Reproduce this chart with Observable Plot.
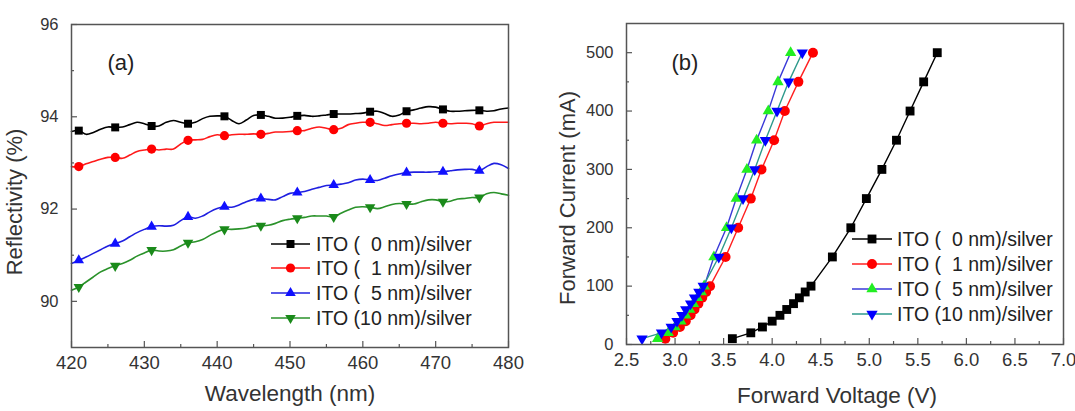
<!DOCTYPE html>
<html><head><meta charset="utf-8">
<script src="https://cdn.jsdelivr.net/npm/d3@7"></script>
<script src="https://cdn.jsdelivr.net/npm/@observablehq/plot@0.6"></script>
<style>
html,body{margin:0;padding:0;background:#fff;}
#wrap{display:flex;width:1075px;height:411px;overflow:hidden;}
svg text{white-space:pre;}
</style></head><body><div id="wrap"></div>
<script>
// ---------- Panel (a): reflectivity ----------
const wavelengths = [420,421,422,423,424,425,426,427,428,429,430,431,432,433,434,435,436,437,438,439,440,441,442,443,444,445,446,447,448,449,450,451,452,453,454,455,456,457,458,459,460,461,462,463,464,465,466,467,468,469,470,471,472,473,474,475,476,477,478,479,480];
const markerWavelengths = [421,426,431,436,441,446,451,456,461,466,471,476];
const refl0 = [93.68,93.70,93.62,93.66,93.73,93.78,93.77,93.78,93.83,93.88,93.85,93.80,93.80,93.88,93.92,93.88,93.85,93.88,93.96,94.01,94.02,94.01,93.92,93.85,93.93,94.03,94.04,94.01,93.97,93.97,93.99,94.02,94.03,94.01,94.02,94.04,94.06,94.06,94.06,94.07,94.08,94.11,94.12,94.07,94.01,94.04,94.12,94.15,94.19,94.22,94.21,94.16,94.12,94.12,94.13,94.14,94.14,94.12,94.13,94.17,94.19];
const refl1 = [92.92,92.92,92.98,93.03,93.08,93.12,93.12,93.10,93.17,93.25,93.28,93.30,93.28,93.30,93.30,93.41,93.49,93.50,93.51,93.57,93.61,93.59,93.61,93.62,93.62,93.63,93.62,93.64,93.67,93.67,93.68,93.70,93.70,93.75,93.78,93.75,93.72,93.75,93.83,93.86,93.88,93.88,93.85,93.81,93.83,93.85,93.86,93.86,93.85,93.86,93.88,93.86,93.85,93.86,93.86,93.85,93.80,93.85,93.88,93.88,93.88];
const refl5 = [90.82,90.89,90.96,91.04,91.12,91.20,91.25,91.31,91.40,91.49,91.56,91.62,91.64,91.63,91.65,91.75,91.83,91.80,91.85,91.94,92.01,92.05,92.04,92.09,92.16,92.21,92.23,92.21,92.20,92.27,92.34,92.36,92.38,92.43,92.47,92.51,92.52,92.54,92.57,92.63,92.65,92.63,92.62,92.67,92.72,92.76,92.79,92.80,92.80,92.80,92.81,92.81,92.83,92.85,92.86,92.86,92.83,92.92,92.99,92.96,92.88];
const refl10 = [90.24,90.31,90.42,90.53,90.64,90.71,90.77,90.82,90.89,90.98,91.05,91.11,91.09,91.09,91.12,91.20,91.27,91.29,91.34,91.43,91.51,91.56,91.56,91.57,91.59,91.63,91.64,91.65,91.69,91.75,91.78,91.80,91.82,91.85,91.85,91.85,91.83,91.91,91.98,92.04,92.05,92.04,92.01,92.05,92.10,92.12,92.11,92.11,92.16,92.20,92.20,92.16,92.17,92.22,92.23,92.25,92.25,92.33,92.36,92.33,92.30];
const xTicksA = [420,430,440,450,460,470,480];
const xMinorA = [425,435,445,455,465,475];
const yTicksA = [90,92,94,96];
const yMinorA = [91,93,95];

// ---------- Panel (b): I-V ----------
const currents = [10,20,30,40,50,60,70,80,90,100,150,200,250,300,350,400,450,500];
const volt0  = [3.59,3.78,3.90,4.00,4.08,4.15,4.22,4.28,4.34,4.40,4.62,4.81,4.97,5.13,5.28,5.42,5.56,5.70];
const volt1  = [2.90,2.98,3.05,3.11,3.16,3.20,3.24,3.28,3.32,3.36,3.52,3.65,3.78,3.89,4.02,4.13,4.27,4.42];
const volt5  = [2.82,2.93,3.00,3.06,3.11,3.15,3.19,3.23,3.27,3.30,3.40,3.53,3.63,3.74,3.84,3.96,4.06,4.19];
const volt10 = [2.66,2.86,2.96,3.02,3.07,3.11,3.16,3.20,3.245,3.29,3.45,3.58,3.70,3.82,3.93,4.05,4.17,4.31];
const xTicksB = [2.5,3.0,3.5,4.0,4.5,5.0,5.5,6.0,6.5,7.0];
const xMinorB = [2.75,3.25,3.75,4.25,4.75,5.25,5.75,6.25,6.75];
const yTicksB = [0,100,200,300,400,500];
const yMinorB = [50,150,250,350,450];

const seriesNames = ["ITO (  0 nm)/silver","ITO (  1 nm)/silver","ITO (  5 nm)/silver","ITO (10 nm)/silver"];

const triDown = {draw(ctx, size){const y=Math.sqrt(size/(Math.sqrt(3)*3));ctx.moveTo(0,y*2);ctx.lineTo(-Math.sqrt(3)*y,-y);ctx.lineTo(Math.sqrt(3)*y,-y);ctx.closePath();}};
const symMap = {square:d3.symbolSquare, circle:d3.symbolCircle, triangle:d3.symbolTriangle, tridown:triDown};
const plotSym = {square:"square", circle:"circle", triangle:"triangle", tridown:triDown};

const FONT = "'Liberation Sans', Arial, sans-serif";

const seriesA = [
  {values:refl0, color:"#000000", line:"#000000", sym:"square", r:4.5},
  {values:refl1, color:"#ff0000", line:"#ff1a1a", sym:"circle", r:4.6},
  {values:refl5, color:"#1010ff", line:"#2020e0", sym:"triangle", r:3.9},
  {values:refl10, color:"#1a8a1a", line:"#2a922a", sym:"tridown", r:3.9}
];
const seriesB = [
  {values:volt0, color:"#000000", line:"#000000", sym:"square", r:5.0},
  {values:volt1, color:"#ff0000", line:"#ff2020", sym:"circle", r:5.0},
  {values:volt5, color:"#22ee22", line:"#3a3ad8", sym:"triangle", r:4.2},
  {values:volt10, color:"#0000ff", line:"#2e9a8c", sym:"tridown", r:4.2}
];

function frameAxes(xT, xM, yT, yM, xFmt, yFmt, fw, fh){
  return [
    Plot.axisX({ticks:xT, tickSize:0, tickPadding:8, fontSize:18.5, fill:"#333", label:null, tickFormat:xFmt}),
    Plot.tickX(xT, {x:d=>d, insetTop:fh-6, stroke:"#555", strokeWidth:1.2}),
    Plot.tickX(xM, {x:d=>d, insetTop:fh-3, stroke:"#555", strokeWidth:1.2}),
    Plot.axisY({ticks:yT, tickSize:0, tickPadding:13, fontSize:16.5, fill:"#333", label:null, tickFormat:yFmt}),
    Plot.tickY(yT, {y:d=>d, insetRight:fw-6, stroke:"#555", strokeWidth:1.2}),
    Plot.tickY(yM, {y:d=>d, insetRight:fw-3, stroke:"#555", strokeWidth:1.2}),
    Plot.frame({stroke:"#555", strokeWidth:1.5})
  ];
}

// Panel A marks
const marksA = [];
seriesA.forEach(s => {
  marksA.push(Plot.line(wavelengths, {x:d=>d, y:(d,i)=>s.values[i], stroke:s.line, strokeWidth:1.6, curve:"catmull-rom"}));
  marksA.push(Plot.dot(markerWavelengths, {x:d=>d, y:d=>s.values[wavelengths.indexOf(d)], symbol:plotSym[s.sym], r:s.r, fill:s.color, stroke:"none"}));
});
const plotA = Plot.plot({
  width:537, height:411, marginLeft:71, marginRight:29, marginTop:24, marginBottom:64,
  x:{domain:[420,480]}, y:{domain:[89,96]},
  style:{fontFamily:FONT, background:"white", overflow:"visible"},
  marks:[
    ...marksA,
    ...frameAxes(xTicksA, xMinorA, yTicksA, yMinorA, d=>String(d), d=>String(d), 437, 323),
    Plot.text(["Wavelength (nm)"], {frameAnchor:"bottom", dy:46, textAnchor:"middle", lineAnchor:"middle", fontSize:22.5, fill:"#333"}),
    Plot.text(["Reflectivity (%)"], {frameAnchor:"left", dx:-57, dy:16, rotate:-90, textAnchor:"middle", lineAnchor:"middle", fontSize:22, fill:"#333"}),
    Plot.text(["(a)"], {frameAnchor:"top-left", dx:36, dy:38, textAnchor:"start", lineAnchor:"middle", fontSize:22, fill:"#222"})
  ]
});

// Panel B marks
const marksB = [];
seriesB.forEach(s => {
  marksB.push(Plot.line(currents, {x:(d,i)=>s.values[i], y:d=>d, stroke:s.line, strokeWidth:1.4}));
  marksB.push(Plot.dot(currents, {x:(d,i)=>s.values[i], y:d=>d, symbol:plotSym[s.sym], r:s.r, fill:s.color, stroke:"none"}));
});
const plotB = Plot.plot({
  width:538, height:411, marginLeft:89, marginRight:12, marginTop:23, marginBottom:67,
  x:{domain:[2.5,7.0]}, y:{domain:[0,550]},
  style:{fontFamily:FONT, background:"white", overflow:"visible"},
  marks:[
    ...marksB,
    ...frameAxes(xTicksB, xMinorB, yTicksB, yMinorB, d=>d.toFixed(1), d=>String(d), 437, 321),
    Plot.text(["Forward Voltage (V)"], {frameAnchor:"bottom", dx:-8, dy:51, textAnchor:"middle", lineAnchor:"middle", fontSize:22.5, fill:"#333"}),
    Plot.text(["Forward Current (mA)"], {frameAnchor:"left", dx:-59, dy:14, rotate:-90, textAnchor:"middle", lineAnchor:"middle", fontSize:22, fill:"#333"}),
    Plot.text(["(b)"], {frameAnchor:"top-left", dx:45, dy:39, textAnchor:"start", lineAnchor:"middle", fontSize:22, fill:"#222"})
  ]
});

function addLegend(svg, series, x1, x2, xm, xt, rows, fontSize){
  const g = d3.select(svg).append("g").attr("font-family", FONT).attr("text-anchor","start");
  series.forEach((s, i) => {
    const y = rows[i];
    g.append("line").attr("x1",x1).attr("x2",x2).attr("y1",y).attr("y2",y).attr("stroke",s.line).attr("stroke-width",1.6);
    g.append("path").attr("transform",`translate(${xm},${y})`).attr("d", d3.symbol().type(symMap[s.sym]).size(Math.PI*s.r*s.r)()).attr("fill", s.color);
    g.append("text").attr("x",xt).attr("y",y).attr("dy","0.35em").attr("text-anchor","start").attr("font-size",fontSize).attr("fill","#222").style("white-space","pre").text(seriesNames[i]);
  });
}
addLegend(plotA, seriesA, 271, 310, 290.5, 316, [244,268,293,318], 19.5);
addLegend(plotB, seriesB, 315, 355, 335, 360, [239,264,289,314], 19.5);

document.getElementById("wrap").append(plotA, plotB);
</script></body></html>
